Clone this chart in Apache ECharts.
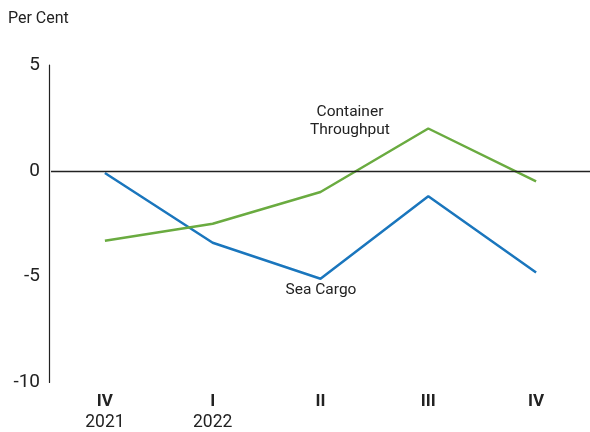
<!DOCTYPE html>
<html><head><meta charset="utf-8">
<script src="https://cdn.jsdelivr.net/npm/echarts@6/dist/echarts.min.js"></script>
<style>html,body{margin:0;padding:0;background:#fff}#c{width:590px;height:432px}</style>
</head><body><div id="c"></div>
<script>
const quarters = ['IV', 'I', 'II', 'III', 'IV'];
const years = ['2021', '2022', '', '', ''];
const seaCargo = [-0.1, -3.4, -5.1, -1.2, -4.8];
const containerThroughput = [-3.3, -2.5, -1.0, 2.0, -0.5];
const yTicks = [5, 0, -5, -10];

const chart = echarts.init(document.getElementById('c'));
const font = 'Roboto, "DejaVu Sans", sans-serif';
chart.setOption({
  animation: false,
  textStyle: { fontFamily: font },
  grid: { left: 51, right: -2, top: 65, bottom: 47 },
  xAxis: {
    type: 'category',
    data: quarters.map((q, i) => q + '|' + years[i]),
    boundaryGap: true,
    axisLine: { show: false },
    axisTick: { show: false },
    axisLabel: {
      margin: 9,
      formatter: v => { const p = v.split('|'); return '{q|' + p[0] + '}\n{y|' + p[1] + '}'; },
      rich: {
        q: { fontSize: 17, fontWeight: 'bold', color: '#222', lineHeight: 21, fontFamily: font },
        y: { fontSize: 17.5, color: '#222', lineHeight: 21, fontFamily: font }
      }
    }
  },
  yAxis: {
    type: 'value', min: -10, max: 5, interval: 5, offset: 2,
    axisLine: { show: true, lineStyle: { color: '#222', width: 1.2 } },
    axisTick: { show: false },
    splitLine: { show: false },
    axisLabel: { fontSize: 19, color: '#222', margin: 9, fontFamily: font,
      formatter: v => yTicks.includes(v) ? String(v) : '' }
  },
  series: [
    { name: 'Sea Cargo', type: 'line', data: seaCargo, symbol: 'none',
      lineStyle: { color: '#1a76bd', width: 2.5 },
      markLine: { silent: true, symbol: 'none', label: { show: false },
        lineStyle: { color: '#222', type: 'solid', width: 1.3 }, data: [{ yAxis: 0 }] } },
    { name: 'Container Throughput', type: 'line', data: containerThroughput, symbol: 'none',
      lineStyle: { color: '#6aab40', width: 2.5 } }
  ],
  graphic: [
    { type: 'text', left: 8, top: 11, style: { text: 'Per Cent', fontSize: 16, fill: '#222', fontFamily: font } },
    { type: 'text', x: 350, y: 103, style: { text: 'Container\nThroughput', fontSize: 15.5, lineHeight: 18, fill: '#222', align: 'center', fontFamily: font } },
    { type: 'text', x: 321, y: 282, style: { text: 'Sea Cargo', fontSize: 15.5, fill: '#222', align: 'center', fontFamily: font } }
  ]
});
</script></body></html>
